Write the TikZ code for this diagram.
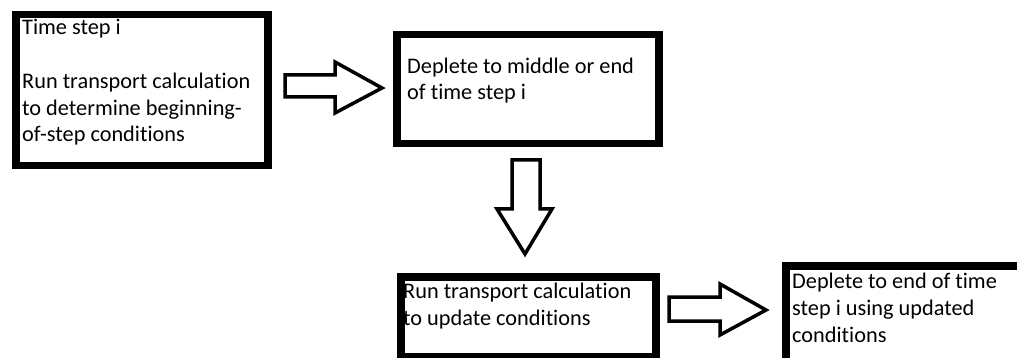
\documentclass[tikz,border=0pt]{standalone}
\usepackage{fontspec}
\setmainfont[Ligatures=NoCommon]{Carlito}
\begin{document}
\begin{tikzpicture}[x=1pt,y=-1pt,
  box/.style={draw=black,line width=7.5pt,fill=white,inner sep=0pt,anchor=north west},
  blockarrow/.style={draw=black,line width=3.5pt,fill=white,line join=miter},
  label/.style={anchor=base west,inner sep=0pt,align=left,text=black,
    font=\fontsize{22.3}{26.75}\selectfont}]
\useasboundingbox (0,0) rectangle (1017,358);
\clip (0,0) rectangle (1017,358);
\fill[white] (0,0) rectangle (1017,358);
% boxes
\node[box,minimum width=252pt,minimum height=151pt] (b1) at (12,11) {};
\node[box,minimum width=262pt,minimum height=109pt] (b2) at (393,31) {};
\node[box,minimum width=255pt,minimum height=80pt] (b3) at (397,273) {};
\node[box,minimum width=238pt,minimum height=99pt] (b4) at (782,262) {};
% texts (base anchor = baseline of the last line)
\node[label] (t1) at (22,142) {Time step i\\[26.75pt]Run transport calculation\\to determine beginning-\\of-step conditions};
\node[label] (t2) at (407,100) {Deplete to middle or end\\of time step i};
\node[label] (t3) at (403,325) {Run transport calculation\\to update conditions};
\node[label] (t4) at (792,342) {Deplete to end of time\\step i using updated\\conditions};
% block arrows
\draw[blockarrow] (285,75) -- (335,75) -- (335,62) -- (382,88) -- (335,113) -- (335,97) -- (285,97) -- cycle;
\draw[blockarrow] (512,160) -- (540,160) -- (540,209) -- (552,209) -- (525,254) -- (497,209) -- (512,209) -- cycle;
\draw[blockarrow] (669,297) -- (720,297) -- (720,284) -- (766,310) -- (720,335) -- (720,321) -- (669,321) -- cycle;
\end{tikzpicture}
\end{document}
